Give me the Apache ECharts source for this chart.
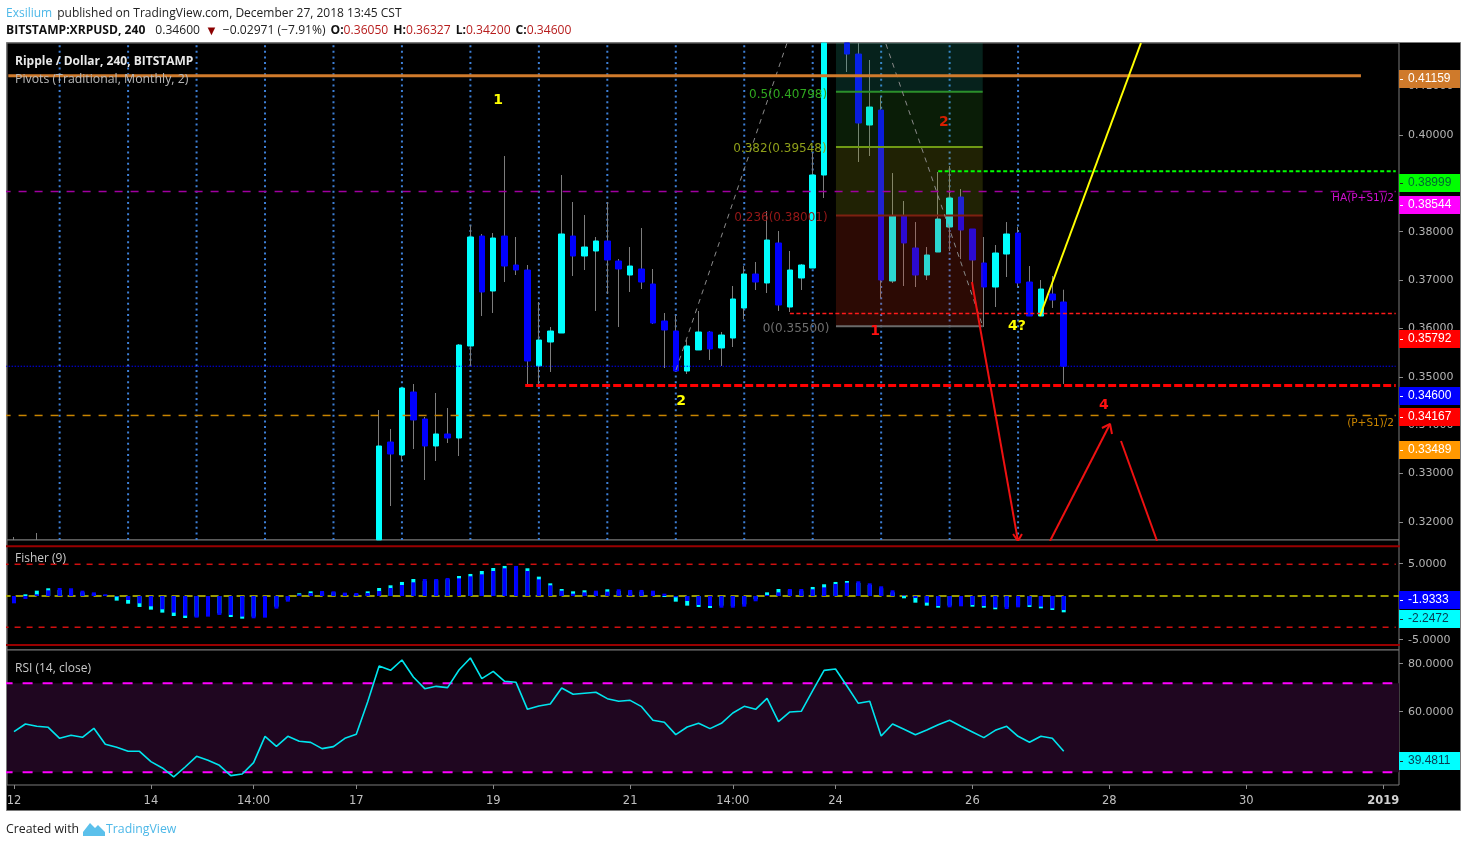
<!DOCTYPE html>
<html><head><meta charset="utf-8">
<style>html,body{margin:0;padding:0;background:#fff}#c{width:1467px;height:847px}</style>
<script src="https://cdn.jsdelivr.net/npm/echarts@6/dist/echarts.min.js"></script>
</head><body><div id="c"></div>
<script>
// ---------- price candles (bar index, O, C, L, H); values beyond the pane's edge are cut at its edge ----------
const barIdx=[32,33,34,35,36,37,38,39,40,41,42,43,44,45,46,47,48,49,50,51,52,53,54,55,56,57,58,59,60,61,62,63,64,65,66,67,68,69,70,71,73,74,75,76,77,78,79,80,81,82,83,84,85,86,87,88,89,90,91,92];
const opens=[.30680,.32890,.32597,.34018,.33409,.32800,.33071,.32980,.35057,.37539,.36298,.37539,.36885,.36772,.34605,.35147,.35350,.37539,.37088,.37201,.37427,.36975,.36659,.36795,.36456,.35621,.35395,.34492,.34967,.35373,.35012,.35237,.35914,.36682,.36479,.37382,.35937,.36592,.36817,.38916,.41896,.41647,.40045,.40383,.36524,.37991,.37269,.36659,.37178,.37743,.38420,.37698,.36930,.36388,.37133,.37607,.36501,.35734,.36230,.36050];
const closes=[.32800,.32619,.34109,.33387,.32800,.33071,.32980,.35079,.37517,.36276,.37494,.36862,.36772,.34718,.35192,.35395,.37585,.37088,.37291,.37427,.36998,.36795,.36862,.36501,.35576,.35418,.34492,.35057,.35373,.34989,.35305,.36118,.36682,.36501,.37449,.35982,.36772,.36885,.38916,.41896,.41647,.40090,.40451,.36546,.37991,.37382,.36659,.37111,.37923,.38397,.37675,.36998,.36388,.37156,.37585,.36479,.35734,.36343,.36095,.34600];
const lows=[.30680,.31445,.32461,.32732,.32032,.32461,.32867,.32574,.34605,.35734,.35802,.36501,.36659,.34176,.34176,.34470,.35350,.36637,.36772,.35847,.36230,.35486,.36276,.36343,.35553,.34560,.34492,.34425,.34967,.34741,.34605,.35034,.35666,.36321,.36253,.35847,.35824,.36321,.36817,.38397,.41241,.39210,.39345,.36140,.36479,.36411,.36388,.36546,.37178,.37201,.37020,.36501,.35486,.35937,.36614,.36388,.35734,.35734,.35915,.34200];
const highs=[.33612,.33184,.34109,.34199,.33454,.33996,.33657,.35102,.37788,.37585,.37607,.39345,.37517,.36885,.36050,.35486,.38916,.38307,.38014,.37517,.38307,.37020,.37291,.37720,.36795,.35802,.35757,.35192,.35847,.35395,.35373,.36411,.36862,.36953,.38104,.37652,.37201,.36908,.39413,.41896,.41896,.41896,.41512,.40677,.38961,.38330,.37855,.37291,.38984,.39119,.38600,.37698,.37517,.37336,.37855,.37743,.36862,.36546,.36637,.36327];
const stubIdx=[0,2];
const stubHighs=[.30746,.30836];
// ---------- Fisher (9), one value per bar from index 0 ----------
const fisherMain=[-1.01,-.41,.23,.78,1.10,1.06,.73,.50,.23,-.09,-.55,-1.01,-1.42,-1.83,-2.29,-2.71,-2.98,-2.84,-2.61,-2.61,-2.84,-3.07,-2.98,-1.74,-.78,.23,.41,.69,.64,.46,.41,.41,.69,1.10,1.51,1.88,2.34,2.34,2.48,2.43,2.71,2.98,3.44,3.81,4.13,3.44,2.29,1.47,.73,.32,.50,.73,.60,.92,.83,.83,.73,.32,-.18,-.69,-1.24,-1.38,-1.61,-1.61,-1.47,-.73,.14,.50,.96,.96,.92,1.19,1.65,1.83,2.02,1.74,1.33,.78,.09,-.28,-.92,-1.38,-1.56,-1.42,-1.24,-1.38,-1.61,-1.79,-1.56,-1.28,-1.47,-1.70,-1.9333];
const fisherTrigger=[-.55,.23,.73,1.06,.83,.78,.50,.32,.14,-.64,-1.06,-1.51,-1.88,-2.29,-2.75,-3.03,-2.84,-2.61,-2.39,-2.89,-3.12,-2.84,-2.61,-1.47,-.55,.37,.64,.50,.50,.32,.23,.64,1.10,1.47,1.93,2.34,2.06,2.16,2.29,2.75,3.03,3.44,3.85,4.13,3.94,3.81,2.66,1.74,.96,.64,.78,.50,.92,.69,.64,.60,.50,-.14,-.78,-1.33,-1.51,-1.65,-1.33,-1.38,-1.15,-.46,.50,.96,.78,.73,1.24,1.61,1.93,2.06,1.79,1.51,1.06,.50,-.32,-.92,-1.33,-1.61,-1.33,-1.19,-1.47,-1.61,-1.83,-1.56,-1.33,-1.51,-1.70,-1.93,-2.2472];
// ---------- RSI (14, close), one value per bar from index 0 ----------
const rsiValues=[48.27,51.71,50.67,50.22,45.27,46.62,45.72,49.77,42.58,41.23,39.43,39.43,34.79,31.94,27.90,32.39,37.18,35.39,33.14,28.50,29.24,34.34,46.17,41.68,46.17,43.92,43.47,40.63,41.53,45.27,47.07,61.75,77.78,75.83,80.48,72.84,67.59,68.64,68.04,75.98,81.37,72.09,75.38,70.89,70.44,58.30,59.80,60.70,67.89,65.05,65.50,65.95,63.10,61.90,62.35,59.50,53.36,52.46,46.92,50.37,52.01,49.62,52.01,56.66,59.65,58.30,63.25,52.76,57.11,57.41,66.70,75.83,76.43,68.79,61.00,61.90,46.32,51.71,49.32,46.92,49.02,51.41,53.36,50.67,48.12,45.57,48.87,50.67,46.17,43.47,46.17,45.27,39.48];
// ---------- axes ----------
const xTickIdx=[0,12,21,30,42,54,63,72,84,96,108,120];
const xTickLabels=['12','14','14:00','17','19','21','14:00','24','26','28','30','2019'];
const xGridIdx=[4,10,16,22,28,34,40,46,52,58,64,70,76,82,88];
const xRange=[-0.6135,121.385];
const priceTicks=[.32,.33,.34,.35,.36,.37,.38,.40,.41];
const priceAxisRange=[.31627,.41901];
const priceDrawRange=[.30678,.41896];
const fisherTicks=[5,-5];
const fisherAxisRange=[-6.36,8.117];
const fisherDrawRange=[-7.43,7.70];
const rsiTicks=[80,60];
const rsiAxisRange=[29.45,85.7];
const rsiDrawRange=[24.29,84.97];
// ---------- price tags on the right-hand scale ----------
const priceTagValues=[.41159,.38999,.38544,.35792,.34600,.34167,.33489];
const priceTagTexts=['0.41159','0.38999','0.38544','0.35792','0.34600','0.34167','0.33489'];
const priceTagFill=['#cf7a2b','#00ff00','#ff00ff','#ff0000','#0000ff','#ff0000','#ff9800'];
const priceTagInk=['#fff','#063','#fff','#fff','#fff','#fff','#fff'];
const fisherTagValues=[.26,-2.24];
const fisherTagTexts=['-1.9333','-2.2472'];
const fisherTagFill=['#0000ff','#00ffff'];
const fisherTagInk=['#fff','#0a3a50'];
const rsiTagValues=[39.4811];
const rsiTagTexts=['39.4811'];
const rsiTagFill=['#00ffff'];
const rsiTagInk=['#0a3a50'];
// ---------- drawings on the price pane: [x0,p0,x1,p1,...] ----------
const pivotOrange=[-0.5,.41159,118.05,.41159];
const pivotPurple=[-1,.38544,121.1,.38544];
const levelGreen=[81,.38999,121.1,.38999];
const levelRed=[68,.35792,121.1,.35792];
const levelBlue=[-1,.34600,121.1,.34600];
const levelRedHeavy=[44.8,.34167,121.1,.34167];
const pivotTan=[-1,.33489,121.1,.33489];
const yellowLine=[89.92,.35734,98.77,.41896];
const redDown=[83.96,.36501,87.99,.30656];
const redDownHead=[87.56,.30814,87.99,.30656,88.34,.30814];
const redUp=[90.8,.30656,96.06,.33296];
const redUpHead=[95.35,.33206,96.06,.33296,96.23,.33071];
const redDown2=[97.02,.32913,100.18,.30656];
const waveUp=[58.02,.34515,67.75,.41896];
const waveDown=[76.42,.41873,84.93,.35486];
const fibX=[72.04,84.9];
const fibLevels=[.41896,.40798,.39548,.38001,.35500];
const fibFill=['rgba(30,170,140,.2)','rgba(60,170,40,.17)','rgba(160,170,20,.2)','rgba(220,50,20,.2)'];
const fibLine=['#2b8f2b','#6f9a14','#7d2010','#6a6a6a'];
const noteTexts=['1','2','4?','1','2','4','0.5(0.40798)','0.382(0.39548)','0.236(0.38001)','0(0.35500)','HA(P+S1)/2','(P+S1)/2'];
const noteX=[42.42,58.46,87.9,75.46,81.5,95.53,67.84,67.13,67.22,68.54,120.95,120.95];
const noteY=[.40607,.33813,.35506,.35395,.40110,.33725,.40722,.39503,.37945,.35440,.38397,.33319];
const noteColors=['#ffff00','#ffff00','#ffff00','#ff1010','#d81e00','#ff1010','#2fa81f','#8f9f1a','#961818','#6e6e6e','#d010d0','#c88400'];
// ---------- lower pane levels ----------
const fisherSolid=[6.84,-6.74];
const fisherDashed=[4.36,-4.30];
const rsiBand=[70,30];

// ---------- build ----------
const FONT='"Open Sans",sans-serif';
const AXISFONT='"DejaVu Sans",sans-serif';
const pairs=a=>{const r=[];for(let i=0;i<a.length;i+=2)r.push([a[i],a[i+1]]);return r;};
const seg=(a,color,width,type,z,xi=0,yi=1)=>({type:'line',xAxisIndex:xi,yAxisIndex:yi,data:pairs(a),showSymbol:false,symbol:'none',silent:true,z:z,clip:true,
  lineStyle:{color:color,width:width,type:type,cap:'butt'}});
const tagSeries=(vals,texts,fill,ink,xi,yi)=>({type:'custom',xAxisIndex:xi,yAxisIndex:yi,z:20,silent:true,clip:false,
  data:vals.map((v,i)=>[0,v,i]),encode:{x:0,y:1},
  renderItem:(p,api)=>{const i=p.dataIndex,c=api.coord([0,api.value(1)]);const x=p.coordSys.x+p.coordSys.width,y=Math.round(c[1]);
    return {type:'group',children:[
      {type:'rect',shape:{x:x,y:y-9,width:61,height:18},style:{fill:fill[i]}},
      {type:'rect',shape:{x:x+1,y:y,width:3,height:1},style:{fill:ink[i]==='#fff'?'#fff':'#222'}},
      {type:'text',x:x+9,y:y,style:{text:texts[i],fill:ink[i],font:'12px "Liberation Sans",sans-serif',verticalAlign:'middle',align:'left'}}
    ]};}});

const series=[];
xGridIdx.forEach(i=>series.push(seg([i,priceDrawRange[0],i,priceDrawRange[1]],'#3d7fd6',2,[2,3.6],1)));
series.push({type:'candlestick',name:'stub',xAxisIndex:0,yAxisIndex:1,z:2,barWidth:1,silent:true,
  data:stubIdx.map((x,i)=>[x,priceDrawRange[0],priceDrawRange[0],priceDrawRange[0],stubHighs[i]]),
  itemStyle:{color:'#7d7d7d',color0:'#7d7d7d',borderColor:'#7d7d7d',borderColor0:'#7d7d7d',borderWidth:1}});
series.push({type:'candlestick',name:'wick',xAxisIndex:0,yAxisIndex:1,z:2,barWidth:1,silent:true,
  data:barIdx.map((x,i)=>[x,opens[i],closes[i],lows[i],highs[i]]),
  itemStyle:{color:'#7d7d7d',color0:'#7d7d7d',borderColor:'#7d7d7d',borderColor0:'#7d7d7d',borderWidth:1}});
series.push({type:'candlestick',name:'body',xAxisIndex:0,yAxisIndex:1,z:3,barWidth:6,silent:true,
  data:barIdx.map((x,i)=>[x,opens[i],closes[i],Math.min(opens[i],closes[i]),Math.max(opens[i],closes[i])]),
  itemStyle:{color:'#00ffff',color0:'#0000ff',borderColor:'#00ffff',borderColor0:'#0000ff',borderWidth:1}});
fibFill.forEach((f,k)=>series.push({type:'line',xAxisIndex:0,yAxisIndex:1,data:[],z:4,silent:true,
  markArea:{silent:true,z:4,itemStyle:{color:f},data:[[{coord:[fibX[0],fibLevels[k]]},{coord:[fibX[1],fibLevels[k+1]]}]]}}));
fibLine.forEach((c,k)=>series.push(seg([fibX[0],fibLevels[k+1],fibX[1],fibLevels[k+1]],c,2,'solid',5)));
series.push(seg(pivotPurple,'#a000a0',1.5,[8,8],5));
series.push(seg(pivotTan,'#c88400',1.5,[8,8],5));
series.push(seg(levelBlue,'#0000ff',1,[1.5,1.5],5));
series.push(seg(levelGreen,'#00ff00',2,[4,2.5],5));
series.push(seg(levelRed,'#ff1a1a',1.5,[4,2.5],5));
series.push(seg(levelRedHeavy,'#ff0000',3,[8,3],5));
series.push(seg(pivotOrange,'#d07b2c',3,'solid',6));
series.push(seg(waveUp,'#8a8a8a',1,[5,5],5));
series.push(seg(waveDown,'#8a8a8a',1,[5,5],5));
series.push(seg(yellowLine,'#ffff00',2,'solid',6));
[redDown,redDownHead,redUp,redUpHead,redDown2].forEach(a=>series.push(seg(a,'#ee1111',2,'solid',6)));
series.push({type:'scatter',xAxisIndex:0,yAxisIndex:1,z:8,silent:true,symbolSize:0,itemStyle:{opacity:1},
  data:noteX.map((x,i)=>({value:[x,noteY[i]],
    label:{show:true,position:'inside',opacity:1,formatter:noteTexts[i],color:noteColors[i],
      fontFamily:AXISFONT,fontWeight:i<6?'bold':'normal',fontSize:i<6?14:i<10?12:10.5,
      align:i>=10?'right':'center',verticalAlign:'middle'}}))});
series.push(tagSeries(priceTagValues,priceTagTexts,priceTagFill,priceTagInk,0,0));
// Fisher
fisherSolid.forEach(v=>series.push(seg([-1,v,122,v],'#990000',2,'solid',1,1,3)));
fisherDashed.forEach(v=>series.push(seg([-1,v,121.1,v],'#d01010',1.5,[6,6],1,1,3)));
series.push(seg([-1,0,122,0],'#999900',2,[8,5],1,1,3));
series.push({type:'bar',xAxisIndex:1,yAxisIndex:3,z:2,silent:true,barWidth:4,barGap:'-100%',
  data:fisherTrigger.map((v,i)=>[i,v]),itemStyle:{color:'#00ffff'}});
series.push({type:'bar',xAxisIndex:1,yAxisIndex:3,z:3,silent:true,barWidth:4,barGap:'-100%',
  data:fisherMain.map((v,i)=>[i,v]),itemStyle:{color:'#0000ff'}});
series.push(tagSeries(fisherTagValues,fisherTagTexts,fisherTagFill,fisherTagInk,1,2));
// RSI
series.push({type:'line',xAxisIndex:2,yAxisIndex:5,data:[],z:1,silent:true,
  markArea:{silent:true,itemStyle:{color:'#1f0620'},data:[[{coord:[xRange[0],rsiBand[0]]},{coord:[xRange[1],rsiBand[1]]}]]}});
rsiBand.forEach(v=>series.push(seg([-1,v,120.8,v],'#ff00ff',2,[10,10],2,2,5)));
series.push({type:'line',xAxisIndex:2,yAxisIndex:5,z:3,silent:true,showSymbol:false,symbol:'none',
  data:rsiValues.map((v,i)=>[i,v]),lineStyle:{color:'#00e5ee',width:1.6}});
series.push(tagSeries(rsiTagValues,rsiTagTexts,rsiTagFill,rsiTagInk,2,4));

const gridBase={show:true,left:7,width:1392,backgroundColor:'#000',borderColor:'#7a7a7a',borderWidth:1};
const hiddenX=g=>({type:'value',gridIndex:g,min:xRange[0],max:xRange[1],show:false,axisLine:{onZero:false}});
const visY=(g,r,t,d)=>({type:'value',gridIndex:g,position:'right',min:r[0],max:r[1],splitLine:{show:false},axisLine:{show:false,onZero:false},
  axisTick:{show:true,length:4,lineStyle:{color:'#8a8a8a'},customValues:t},
  axisLabel:{show:true,customValues:t,margin:9,color:'#b4b4b4',fontFamily:AXISFONT,fontSize:11,formatter:v=>v.toFixed(d)}});
const hidY=(g,r)=>({type:'value',gridIndex:g,min:r[0],max:r[1],show:false,axisLine:{onZero:false}});
const option={animation:false,backgroundColor:'#fff',
  title:[
   {left:6,top:5,padding:0,text:'{a|Exsilium} {b|published on TradingView.com, December 27, 2018 13:45 CST}',
    textStyle:{rich:{a:{color:'#4db8e8',fontFamily:FONT,fontSize:12,fontWeight:'normal'},b:{color:'#222',fontFamily:FONT,fontSize:12,fontWeight:'normal'}}}},
   {left:6,top:22,padding:0,text:'{a|BITSTAMP:XRPUSD, 240}  {b|0.34600} {t|▼} {b|−0.02971 (−7.91%)} {a|O:}{r|0.36050} {a|H:}{r|0.36327} {a|L:}{r|0.34200} {a|C:}{r|0.34600}',
    textStyle:{rich:{a:{color:'#111',fontFamily:FONT,fontSize:12.1,fontWeight:'bold'},b:{color:'#222',fontFamily:FONT,fontSize:12.1,fontWeight:'normal'},r:{color:'#b71c1c',fontFamily:FONT,fontSize:12.1,fontWeight:'normal'},t:{color:'#8b0000',fontSize:13,fontWeight:'normal'}}}},
   {left:6,top:823,padding:0,text:'Created with',textStyle:{color:'#222',fontFamily:FONT,fontSize:12.3,fontWeight:'normal'}},
   {left:106,top:823,padding:0,text:'TradingView',textStyle:{color:'#4db8e8',fontFamily:FONT,fontSize:12.3,fontWeight:'normal'}}
  ],
  grid:[Object.assign({},gridBase,{top:43,height:497}),Object.assign({},gridBase,{top:540,height:110}),Object.assign({},gridBase,{top:650,height:135})],
  xAxis:[hiddenX(0),hiddenX(1),{type:'value',gridIndex:2,min:xRange[0],max:xRange[1],position:'bottom',splitLine:{show:false},axisLine:{show:false,onZero:false},
    axisTick:{show:true,length:4,lineStyle:{color:'#8a8a8a'},customValues:xTickIdx},
    axisLabel:{show:true,customValues:xTickIdx,margin:10,color:'#c0c0c0',fontFamily:AXISFONT,fontSize:11.5,
      formatter:v=>{const s=xTickLabels[xTickIdx.indexOf(v)];return s==='2019'?'{b|2019}':s;},rich:{b:{color:'#d0d0d0',fontFamily:AXISFONT,fontSize:11.5,fontWeight:'bold'}}}}],
  yAxis:[visY(0,priceAxisRange,priceTicks,5),hidY(0,priceDrawRange),visY(1,fisherAxisRange,fisherTicks,4),hidY(1,fisherDrawRange),visY(2,rsiAxisRange,rsiTicks,4),hidY(2,rsiDrawRange)],
  graphic:[
   {type:'rect',z:-10,silent:true,shape:{x:6.5,y:42.5,width:1454,height:768},style:{fill:'#000',stroke:'#7a7a7a',lineWidth:1}},
   {type:'text',z:30,silent:true,x:15,y:56,style:{text:'Ripple / Dollar, 240, BITSTAMP',fill:'#e8e8e8',font:'bold 12px '+FONT}},
   {type:'text',z:30,silent:true,x:15,y:73,style:{text:'Pivots (Traditional, Monthly, 2)',fill:'#b8b8b8',font:'12.3px '+FONT}},
   {type:'text',z:30,silent:true,x:15,y:553,style:{text:'Fisher (9)',fill:'#c8c8c8',font:'12px '+FONT}},
   {type:'text',z:30,silent:true,x:15,y:663,style:{text:'RSI (14, close)',fill:'#c8c8c8',font:'12px '+FONT}},
   {type:'polygon',z:30,silent:true,shape:{points:[[83,836],[83,832],[90,823],[95,828],[98,825],[105,832],[105,836]]},style:{fill:'#5bc0eb'}}
  ],
  series:series};
echarts.init(document.getElementById('c'),null,{renderer:'canvas'}).setOption(option);
</script></body></html>
